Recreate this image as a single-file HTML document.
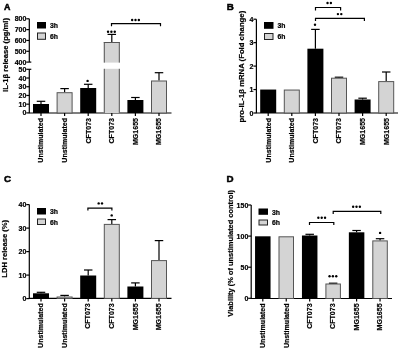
<!DOCTYPE html>
<html><head><meta charset="utf-8"><style>
html,body{margin:0;padding:0;background:#fff;}
svg{display:block;will-change:transform;filter:blur(0.3px);}
text{font-family:"Liberation Sans", sans-serif;fill:#000;stroke:#000;stroke-width:0.2px;}
</style></head><body>
<svg width="400" height="349" viewBox="0 0 400 349">
<rect width="400" height="349" fill="#fff"/>
<text x="4.00" y="10.10" font-size="8.9" text-anchor="start" font-weight="bold" style="stroke-width:0.5px">A</text>
<line x1="29.30" y1="18.80" x2="29.30" y2="62.10" stroke="#000" stroke-width="1.2"/>
<line x1="29.30" y1="69.30" x2="29.30" y2="112.90" stroke="#000" stroke-width="1.2"/>
<line x1="26.30" y1="18.80" x2="29.30" y2="18.80" stroke="#000" stroke-width="1.2"/>
<text x="26.40" y="21.30" font-size="7" text-anchor="end" font-weight="bold">800</text>
<line x1="26.30" y1="29.62" x2="29.30" y2="29.62" stroke="#000" stroke-width="1.2"/>
<text x="26.40" y="32.12" font-size="7" text-anchor="end" font-weight="bold">700</text>
<line x1="26.30" y1="40.45" x2="29.30" y2="40.45" stroke="#000" stroke-width="1.2"/>
<text x="26.40" y="42.95" font-size="7" text-anchor="end" font-weight="bold">600</text>
<line x1="26.30" y1="51.28" x2="29.30" y2="51.28" stroke="#000" stroke-width="1.2"/>
<text x="26.40" y="53.78" font-size="7" text-anchor="end" font-weight="bold">500</text>
<line x1="26.30" y1="62.10" x2="31.30" y2="62.10" stroke="#000" stroke-width="1.2"/>
<text x="26.40" y="64.60" font-size="7" text-anchor="end" font-weight="bold">400</text>
<line x1="26.30" y1="69.30" x2="31.30" y2="69.30" stroke="#000" stroke-width="1.2"/>
<text x="26.40" y="71.80" font-size="7" text-anchor="end" font-weight="bold">50</text>
<line x1="26.30" y1="78.02" x2="29.30" y2="78.02" stroke="#000" stroke-width="1.2"/>
<text x="26.40" y="80.52" font-size="7" text-anchor="end" font-weight="bold">40</text>
<line x1="26.30" y1="86.74" x2="29.30" y2="86.74" stroke="#000" stroke-width="1.2"/>
<text x="26.40" y="89.24" font-size="7" text-anchor="end" font-weight="bold">30</text>
<line x1="26.30" y1="95.46" x2="29.30" y2="95.46" stroke="#000" stroke-width="1.2"/>
<text x="26.40" y="97.96" font-size="7" text-anchor="end" font-weight="bold">20</text>
<line x1="26.30" y1="104.18" x2="29.30" y2="104.18" stroke="#000" stroke-width="1.2"/>
<text x="26.40" y="106.68" font-size="7" text-anchor="end" font-weight="bold">10</text>
<line x1="26.30" y1="112.90" x2="29.30" y2="112.90" stroke="#000" stroke-width="1.2"/>
<text x="26.40" y="115.40" font-size="7" text-anchor="end" font-weight="bold">0</text>
<line x1="28.80" y1="113.00" x2="171.50" y2="113.00" stroke="#000" stroke-width="1.2"/>
<line x1="41.00" y1="101.30" x2="41.00" y2="104.00" stroke="#000" stroke-width="1.2"/>
<line x1="36.75" y1="101.30" x2="45.25" y2="101.30" stroke="#000" stroke-width="1.2"/>
<rect x="33.00" y="104.00" width="16.00" height="9.00" fill="#000"/>
<line x1="64.60" y1="88.60" x2="64.60" y2="92.20" stroke="#000" stroke-width="1.2"/>
<line x1="60.35" y1="88.60" x2="68.85" y2="88.60" stroke="#000" stroke-width="1.2"/>
<rect x="57.10" y="92.70" width="15.00" height="20.30" fill="#d4d4d4" stroke="#555" stroke-width="1"/>
<line x1="88.20" y1="84.30" x2="88.20" y2="88.00" stroke="#000" stroke-width="1.2"/>
<line x1="83.95" y1="84.30" x2="92.45" y2="84.30" stroke="#000" stroke-width="1.2"/>
<rect x="80.20" y="88.00" width="16.00" height="25.00" fill="#000"/>
<line x1="111.80" y1="34.40" x2="111.80" y2="42.50" stroke="#000" stroke-width="1.2"/>
<line x1="107.55" y1="34.40" x2="116.05" y2="34.40" stroke="#000" stroke-width="1.2"/>
<rect x="103.80" y="42.50" width="16.00" height="20.10" fill="#d4d4d4"/>
<rect x="103.80" y="68.80" width="16.00" height="44.20" fill="#d4d4d4"/>
<line x1="103.80" y1="42.50" x2="119.80" y2="42.50" stroke="#555" stroke-width="1"/>
<line x1="104.30" y1="42.00" x2="104.30" y2="62.60" stroke="#555" stroke-width="1"/>
<line x1="104.30" y1="68.80" x2="104.30" y2="113.00" stroke="#555" stroke-width="1"/>
<line x1="119.30" y1="42.00" x2="119.30" y2="62.60" stroke="#555" stroke-width="1"/>
<line x1="119.30" y1="68.80" x2="119.30" y2="113.00" stroke="#555" stroke-width="1"/>
<line x1="135.40" y1="97.50" x2="135.40" y2="100.00" stroke="#000" stroke-width="1.2"/>
<line x1="131.15" y1="97.50" x2="139.65" y2="97.50" stroke="#000" stroke-width="1.2"/>
<rect x="127.40" y="100.00" width="16.00" height="13.00" fill="#000"/>
<line x1="159.00" y1="72.70" x2="159.00" y2="80.50" stroke="#000" stroke-width="1.2"/>
<line x1="154.75" y1="72.70" x2="163.25" y2="72.70" stroke="#000" stroke-width="1.2"/>
<rect x="151.50" y="81.00" width="15.00" height="32.00" fill="#d4d4d4" stroke="#555" stroke-width="1"/>
<line x1="41.00" y1="113.00" x2="41.00" y2="116.00" stroke="#000" stroke-width="1.2"/>
<line x1="64.60" y1="113.00" x2="64.60" y2="116.00" stroke="#000" stroke-width="1.2"/>
<line x1="88.20" y1="113.00" x2="88.20" y2="116.00" stroke="#000" stroke-width="1.2"/>
<line x1="111.80" y1="113.00" x2="111.80" y2="116.00" stroke="#000" stroke-width="1.2"/>
<line x1="135.40" y1="113.00" x2="135.40" y2="116.00" stroke="#000" stroke-width="1.2"/>
<line x1="159.00" y1="113.00" x2="159.00" y2="116.00" stroke="#000" stroke-width="1.2"/>
<text x="43.30" y="118.00" font-size="7.05" text-anchor="end" font-weight="bold" transform="rotate(-90 43.30 118.00)">Unstimulated</text>
<text x="66.90" y="118.00" font-size="7.05" text-anchor="end" font-weight="bold" transform="rotate(-90 66.90 118.00)">Unstimulated</text>
<text x="90.50" y="118.00" font-size="7.05" text-anchor="end" font-weight="bold" transform="rotate(-90 90.50 118.00)">CFT073</text>
<text x="114.10" y="118.00" font-size="7.05" text-anchor="end" font-weight="bold" transform="rotate(-90 114.10 118.00)">CFT073</text>
<text x="137.70" y="118.00" font-size="7.05" text-anchor="end" font-weight="bold" transform="rotate(-90 137.70 118.00)">MG1655</text>
<text x="161.30" y="118.00" font-size="7.05" text-anchor="end" font-weight="bold" transform="rotate(-90 161.30 118.00)">MG1655</text>
<circle cx="87.60" cy="80.9" r="1.2" fill="#000"/>
<circle cx="108.05" cy="31.8" r="1.2" fill="#000"/>
<circle cx="111.40" cy="31.8" r="1.2" fill="#000"/>
<circle cx="114.75" cy="31.8" r="1.2" fill="#000"/>
<path d="M111.5 26.2 V23.6 H160.5 V26.2" fill="none" stroke="#000" stroke-width="1.2"/>
<circle cx="132.15" cy="20" r="1.2" fill="#000"/>
<circle cx="135.50" cy="20" r="1.2" fill="#000"/>
<circle cx="138.85" cy="20" r="1.2" fill="#000"/>
<rect x="37.00" y="22.00" width="9.00" height="6.50" fill="#000"/>
<rect x="37.50" y="33.00" width="8.00" height="6.30" fill="#d4d4d4" stroke="#222" stroke-width="1"/>
<text x="50.00" y="28.00" font-size="6.9" text-anchor="start" font-weight="bold">3h</text>
<text x="50.00" y="39.00" font-size="6.9" text-anchor="start" font-weight="bold">6h</text>
<text x="7.50" y="55.00" font-size="7.6" text-anchor="middle" font-weight="bold" transform="rotate(-90 7.50 55.00)">IL-1β release (pg/ml)</text>
<text x="226.70" y="10.20" font-size="9.8" text-anchor="start" font-weight="bold" style="stroke-width:0.5px">B</text>
<line x1="256.40" y1="19.20" x2="256.40" y2="113.00" stroke="#000" stroke-width="1.2"/>
<line x1="253.40" y1="113.00" x2="256.40" y2="113.00" stroke="#000" stroke-width="1.2"/>
<text x="253.50" y="115.50" font-size="7" text-anchor="end" font-weight="bold">0</text>
<line x1="253.40" y1="89.55" x2="256.40" y2="89.55" stroke="#000" stroke-width="1.2"/>
<text x="253.50" y="92.05" font-size="7" text-anchor="end" font-weight="bold">1</text>
<line x1="253.40" y1="66.10" x2="256.40" y2="66.10" stroke="#000" stroke-width="1.2"/>
<text x="253.50" y="68.60" font-size="7" text-anchor="end" font-weight="bold">2</text>
<line x1="253.40" y1="42.65" x2="256.40" y2="42.65" stroke="#000" stroke-width="1.2"/>
<text x="253.50" y="45.15" font-size="7" text-anchor="end" font-weight="bold">3</text>
<line x1="253.40" y1="19.20" x2="256.40" y2="19.20" stroke="#000" stroke-width="1.2"/>
<text x="253.50" y="21.70" font-size="7" text-anchor="end" font-weight="bold">4</text>
<line x1="255.90" y1="113.00" x2="398.00" y2="113.00" stroke="#000" stroke-width="1.2"/>
<rect x="260.20" y="89.55" width="16.00" height="23.45" fill="#000"/>
<rect x="284.30" y="90.05" width="15.00" height="22.95" fill="#d4d4d4" stroke="#555" stroke-width="1"/>
<line x1="315.40" y1="29.40" x2="315.40" y2="48.70" stroke="#000" stroke-width="1.2"/>
<line x1="311.15" y1="29.40" x2="319.65" y2="29.40" stroke="#000" stroke-width="1.2"/>
<rect x="307.40" y="48.70" width="16.00" height="64.30" fill="#000"/>
<line x1="339.00" y1="77.20" x2="339.00" y2="77.70" stroke="#000" stroke-width="1.2"/>
<line x1="334.75" y1="77.20" x2="343.25" y2="77.20" stroke="#000" stroke-width="1.2"/>
<rect x="331.50" y="78.20" width="15.00" height="34.80" fill="#d4d4d4" stroke="#555" stroke-width="1"/>
<line x1="362.60" y1="98.20" x2="362.60" y2="99.50" stroke="#000" stroke-width="1.2"/>
<line x1="358.35" y1="98.20" x2="366.85" y2="98.20" stroke="#000" stroke-width="1.2"/>
<rect x="354.60" y="99.50" width="16.00" height="13.50" fill="#000"/>
<line x1="386.20" y1="72.00" x2="386.20" y2="81.10" stroke="#000" stroke-width="1.2"/>
<line x1="381.95" y1="72.00" x2="390.45" y2="72.00" stroke="#000" stroke-width="1.2"/>
<rect x="378.70" y="81.60" width="15.00" height="31.40" fill="#d4d4d4" stroke="#555" stroke-width="1"/>
<line x1="268.20" y1="113.00" x2="268.20" y2="116.00" stroke="#000" stroke-width="1.2"/>
<line x1="291.80" y1="113.00" x2="291.80" y2="116.00" stroke="#000" stroke-width="1.2"/>
<line x1="315.40" y1="113.00" x2="315.40" y2="116.00" stroke="#000" stroke-width="1.2"/>
<line x1="339.00" y1="113.00" x2="339.00" y2="116.00" stroke="#000" stroke-width="1.2"/>
<line x1="362.60" y1="113.00" x2="362.60" y2="116.00" stroke="#000" stroke-width="1.2"/>
<line x1="386.20" y1="113.00" x2="386.20" y2="116.00" stroke="#000" stroke-width="1.2"/>
<text x="270.50" y="118.00" font-size="7.05" text-anchor="end" font-weight="bold" transform="rotate(-90 270.50 118.00)">Unstimulated</text>
<text x="294.10" y="118.00" font-size="7.05" text-anchor="end" font-weight="bold" transform="rotate(-90 294.10 118.00)">Unstimulated</text>
<text x="317.70" y="118.00" font-size="7.05" text-anchor="end" font-weight="bold" transform="rotate(-90 317.70 118.00)">CFT073</text>
<text x="341.30" y="118.00" font-size="7.05" text-anchor="end" font-weight="bold" transform="rotate(-90 341.30 118.00)">CFT073</text>
<text x="364.90" y="118.00" font-size="7.05" text-anchor="end" font-weight="bold" transform="rotate(-90 364.90 118.00)">MG1655</text>
<text x="388.50" y="118.00" font-size="7.05" text-anchor="end" font-weight="bold" transform="rotate(-90 388.50 118.00)">MG1655</text>
<circle cx="315.00" cy="24.8" r="1.2" fill="#000"/>
<path d="M315.5 10.5 V7.5 H340.6 V10.5" fill="none" stroke="#000" stroke-width="1.2"/>
<circle cx="327.52" cy="3" r="1.2" fill="#000"/>
<circle cx="330.88" cy="3" r="1.2" fill="#000"/>
<path d="M315.5 21 V18.3 H364.4 V21" fill="none" stroke="#000" stroke-width="1.2"/>
<circle cx="337.93" cy="14.1" r="1.2" fill="#000"/>
<circle cx="341.28" cy="14.1" r="1.2" fill="#000"/>
<rect x="264.00" y="22.00" width="9.50" height="6.80" fill="#000"/>
<rect x="264.50" y="33.50" width="8.50" height="6.00" fill="#d4d4d4" stroke="#222" stroke-width="1"/>
<text x="277.50" y="28.00" font-size="6.8" text-anchor="start" font-weight="bold">3h</text>
<text x="277.50" y="39.00" font-size="6.8" text-anchor="start" font-weight="bold">6h</text>
<text x="244.20" y="66.60" font-size="7.72" text-anchor="middle" font-weight="bold" transform="rotate(-90 244.20 66.60)">pro-IL-1β mRNA (Fold change)</text>
<text x="3.90" y="182.30" font-size="9.8" text-anchor="start" font-weight="bold" style="stroke-width:0.5px">C</text>
<line x1="29.30" y1="204.60" x2="29.30" y2="298.60" stroke="#000" stroke-width="1.2"/>
<line x1="26.30" y1="298.60" x2="29.30" y2="298.60" stroke="#000" stroke-width="1.2"/>
<text x="26.40" y="301.10" font-size="7" text-anchor="end" font-weight="bold">0</text>
<line x1="26.30" y1="275.10" x2="29.30" y2="275.10" stroke="#000" stroke-width="1.2"/>
<text x="26.40" y="277.60" font-size="7" text-anchor="end" font-weight="bold">10</text>
<line x1="26.30" y1="251.60" x2="29.30" y2="251.60" stroke="#000" stroke-width="1.2"/>
<text x="26.40" y="254.10" font-size="7" text-anchor="end" font-weight="bold">20</text>
<line x1="26.30" y1="228.10" x2="29.30" y2="228.10" stroke="#000" stroke-width="1.2"/>
<text x="26.40" y="230.60" font-size="7" text-anchor="end" font-weight="bold">30</text>
<line x1="26.30" y1="204.60" x2="29.30" y2="204.60" stroke="#000" stroke-width="1.2"/>
<text x="26.40" y="207.10" font-size="7" text-anchor="end" font-weight="bold">40</text>
<line x1="28.80" y1="298.40" x2="171.50" y2="298.40" stroke="#000" stroke-width="1.2"/>
<line x1="41.00" y1="292.30" x2="41.00" y2="293.30" stroke="#000" stroke-width="1.2"/>
<line x1="36.75" y1="292.30" x2="45.25" y2="292.30" stroke="#000" stroke-width="1.2"/>
<rect x="33.00" y="293.30" width="16.00" height="5.10" fill="#000"/>
<line x1="64.60" y1="295.40" x2="64.60" y2="296.50" stroke="#000" stroke-width="1.2"/>
<line x1="60.35" y1="295.40" x2="68.85" y2="295.40" stroke="#000" stroke-width="1.2"/>
<rect x="57.10" y="297.00" width="15.00" height="1.40" fill="#d4d4d4" stroke="#555" stroke-width="1"/>
<line x1="88.20" y1="270.00" x2="88.20" y2="275.50" stroke="#000" stroke-width="1.2"/>
<line x1="83.95" y1="270.00" x2="92.45" y2="270.00" stroke="#000" stroke-width="1.2"/>
<rect x="80.20" y="275.50" width="16.00" height="22.90" fill="#000"/>
<line x1="111.80" y1="219.60" x2="111.80" y2="223.90" stroke="#000" stroke-width="1.2"/>
<line x1="107.55" y1="219.60" x2="116.05" y2="219.60" stroke="#000" stroke-width="1.2"/>
<rect x="104.30" y="224.40" width="15.00" height="74.00" fill="#d4d4d4" stroke="#555" stroke-width="1"/>
<line x1="135.40" y1="282.90" x2="135.40" y2="286.50" stroke="#000" stroke-width="1.2"/>
<line x1="131.15" y1="282.90" x2="139.65" y2="282.90" stroke="#000" stroke-width="1.2"/>
<rect x="127.40" y="286.50" width="16.00" height="11.90" fill="#000"/>
<line x1="159.00" y1="240.60" x2="159.00" y2="260.10" stroke="#000" stroke-width="1.2"/>
<line x1="154.75" y1="240.60" x2="163.25" y2="240.60" stroke="#000" stroke-width="1.2"/>
<rect x="151.50" y="260.60" width="15.00" height="37.80" fill="#d4d4d4" stroke="#555" stroke-width="1"/>
<line x1="41.00" y1="298.40" x2="41.00" y2="301.40" stroke="#000" stroke-width="1.2"/>
<line x1="64.60" y1="298.40" x2="64.60" y2="301.40" stroke="#000" stroke-width="1.2"/>
<line x1="88.20" y1="298.40" x2="88.20" y2="301.40" stroke="#000" stroke-width="1.2"/>
<line x1="111.80" y1="298.40" x2="111.80" y2="301.40" stroke="#000" stroke-width="1.2"/>
<line x1="135.40" y1="298.40" x2="135.40" y2="301.40" stroke="#000" stroke-width="1.2"/>
<line x1="159.00" y1="298.40" x2="159.00" y2="301.40" stroke="#000" stroke-width="1.2"/>
<text x="43.30" y="303.30" font-size="7.05" text-anchor="end" font-weight="bold" transform="rotate(-90 43.30 303.30)">Unstimulated</text>
<text x="66.90" y="303.30" font-size="7.05" text-anchor="end" font-weight="bold" transform="rotate(-90 66.90 303.30)">Unstimulated</text>
<text x="90.50" y="303.30" font-size="7.05" text-anchor="end" font-weight="bold" transform="rotate(-90 90.50 303.30)">CFT073</text>
<text x="114.10" y="303.30" font-size="7.05" text-anchor="end" font-weight="bold" transform="rotate(-90 114.10 303.30)">CFT073</text>
<text x="137.70" y="303.30" font-size="7.05" text-anchor="end" font-weight="bold" transform="rotate(-90 137.70 303.30)">MG1655</text>
<text x="161.30" y="303.30" font-size="7.05" text-anchor="end" font-weight="bold" transform="rotate(-90 161.30 303.30)">MG1655</text>
<circle cx="111.70" cy="215.4" r="1.2" fill="#000"/>
<path d="M87.9 210.4 V208.1 H111.9 V210.4" fill="none" stroke="#000" stroke-width="1.2"/>
<circle cx="98.67" cy="203.4" r="1.2" fill="#000"/>
<circle cx="102.02" cy="203.4" r="1.2" fill="#000"/>
<rect x="37.00" y="208.00" width="9.00" height="6.50" fill="#000"/>
<rect x="37.50" y="219.00" width="8.00" height="5.50" fill="#d4d4d4" stroke="#222" stroke-width="1"/>
<text x="50.00" y="214.10" font-size="6.9" text-anchor="start" font-weight="bold">3h</text>
<text x="50.00" y="224.60" font-size="6.9" text-anchor="start" font-weight="bold">6h</text>
<text x="7.20" y="248.80" font-size="7.6" text-anchor="middle" font-weight="bold" transform="rotate(-90 7.20 248.80)">LDH release (%)</text>
<text x="226.40" y="181.60" font-size="9.8" text-anchor="start" font-weight="bold" style="stroke-width:0.5px">D</text>
<line x1="251.20" y1="205.00" x2="251.20" y2="298.30" stroke="#000" stroke-width="1.2"/>
<line x1="248.20" y1="298.30" x2="251.20" y2="298.30" stroke="#000" stroke-width="1.2"/>
<text x="248.30" y="300.80" font-size="7" text-anchor="end" font-weight="bold">0</text>
<line x1="248.20" y1="267.20" x2="251.20" y2="267.20" stroke="#000" stroke-width="1.2"/>
<text x="248.30" y="269.70" font-size="7" text-anchor="end" font-weight="bold">50</text>
<line x1="248.20" y1="236.10" x2="251.20" y2="236.10" stroke="#000" stroke-width="1.2"/>
<text x="248.30" y="238.60" font-size="7" text-anchor="end" font-weight="bold">100</text>
<line x1="248.20" y1="205.00" x2="251.20" y2="205.00" stroke="#000" stroke-width="1.2"/>
<text x="248.30" y="207.50" font-size="7" text-anchor="end" font-weight="bold">150</text>
<line x1="250.70" y1="298.50" x2="392.00" y2="298.50" stroke="#000" stroke-width="1.2"/>
<rect x="255.05" y="236.30" width="15.50" height="62.20" fill="#000"/>
<rect x="279.00" y="236.80" width="14.50" height="61.70" fill="#d4d4d4" stroke="#555" stroke-width="1"/>
<line x1="309.70" y1="234.30" x2="309.70" y2="235.50" stroke="#000" stroke-width="1.2"/>
<line x1="305.45" y1="234.30" x2="313.95" y2="234.30" stroke="#000" stroke-width="1.2"/>
<rect x="301.95" y="235.50" width="15.50" height="63.00" fill="#000"/>
<line x1="333.15" y1="283.20" x2="333.15" y2="283.50" stroke="#000" stroke-width="1.2"/>
<line x1="328.90" y1="283.20" x2="337.40" y2="283.20" stroke="#000" stroke-width="1.2"/>
<rect x="325.90" y="284.00" width="14.50" height="14.50" fill="#d4d4d4" stroke="#555" stroke-width="1"/>
<line x1="356.60" y1="230.50" x2="356.60" y2="232.30" stroke="#000" stroke-width="1.2"/>
<line x1="352.35" y1="230.50" x2="360.85" y2="230.50" stroke="#000" stroke-width="1.2"/>
<rect x="348.85" y="232.30" width="15.50" height="66.20" fill="#000"/>
<line x1="380.05" y1="238.70" x2="380.05" y2="240.40" stroke="#000" stroke-width="1.2"/>
<line x1="375.80" y1="238.70" x2="384.30" y2="238.70" stroke="#000" stroke-width="1.2"/>
<rect x="372.80" y="240.90" width="14.50" height="57.60" fill="#d4d4d4" stroke="#555" stroke-width="1"/>
<line x1="262.80" y1="298.50" x2="262.80" y2="301.50" stroke="#000" stroke-width="1.2"/>
<line x1="286.25" y1="298.50" x2="286.25" y2="301.50" stroke="#000" stroke-width="1.2"/>
<line x1="309.70" y1="298.50" x2="309.70" y2="301.50" stroke="#000" stroke-width="1.2"/>
<line x1="333.15" y1="298.50" x2="333.15" y2="301.50" stroke="#000" stroke-width="1.2"/>
<line x1="356.60" y1="298.50" x2="356.60" y2="301.50" stroke="#000" stroke-width="1.2"/>
<line x1="380.05" y1="298.50" x2="380.05" y2="301.50" stroke="#000" stroke-width="1.2"/>
<text x="265.10" y="303.40" font-size="7.05" text-anchor="end" font-weight="bold" transform="rotate(-90 265.10 303.40)">Unstimulated</text>
<text x="288.55" y="303.40" font-size="7.05" text-anchor="end" font-weight="bold" transform="rotate(-90 288.55 303.40)">Unstimulated</text>
<text x="312.00" y="303.40" font-size="7.05" text-anchor="end" font-weight="bold" transform="rotate(-90 312.00 303.40)">CFT073</text>
<text x="335.45" y="303.40" font-size="7.05" text-anchor="end" font-weight="bold" transform="rotate(-90 335.45 303.40)">CFT073</text>
<text x="358.90" y="303.40" font-size="7.05" text-anchor="end" font-weight="bold" transform="rotate(-90 358.90 303.40)">MG1655</text>
<text x="382.35" y="303.40" font-size="7.05" text-anchor="end" font-weight="bold" transform="rotate(-90 382.35 303.40)">MG1655</text>
<circle cx="329.55" cy="276.3" r="1.2" fill="#000"/>
<circle cx="332.90" cy="276.3" r="1.2" fill="#000"/>
<circle cx="336.25" cy="276.3" r="1.2" fill="#000"/>
<circle cx="380.10" cy="232.9" r="1.2" fill="#000"/>
<path d="M309.5 225 V222.5 H333.8 V225" fill="none" stroke="#000" stroke-width="1.2"/>
<circle cx="318.35" cy="217.8" r="1.2" fill="#000"/>
<circle cx="321.70" cy="217.8" r="1.2" fill="#000"/>
<circle cx="325.05" cy="217.8" r="1.2" fill="#000"/>
<path d="M333.2 214 V211.3 H380.8 V214" fill="none" stroke="#000" stroke-width="1.2"/>
<circle cx="353.15" cy="206.7" r="1.2" fill="#000"/>
<circle cx="356.50" cy="206.7" r="1.2" fill="#000"/>
<circle cx="359.85" cy="206.7" r="1.2" fill="#000"/>
<rect x="258.50" y="208.50" width="9.50" height="6.30" fill="#000"/>
<rect x="259.00" y="220.00" width="8.50" height="5.00" fill="#d4d4d4" stroke="#222" stroke-width="1"/>
<text x="272.00" y="214.50" font-size="6.9" text-anchor="start" font-weight="bold">3h</text>
<text x="272.00" y="225.20" font-size="6.9" text-anchor="start" font-weight="bold">6h</text>
<text x="232.70" y="253.30" font-size="7.45" text-anchor="middle" font-weight="bold" transform="rotate(-90 232.70 253.30)">Viability (% of unstimulated control)</text>
</svg>
</body></html>
